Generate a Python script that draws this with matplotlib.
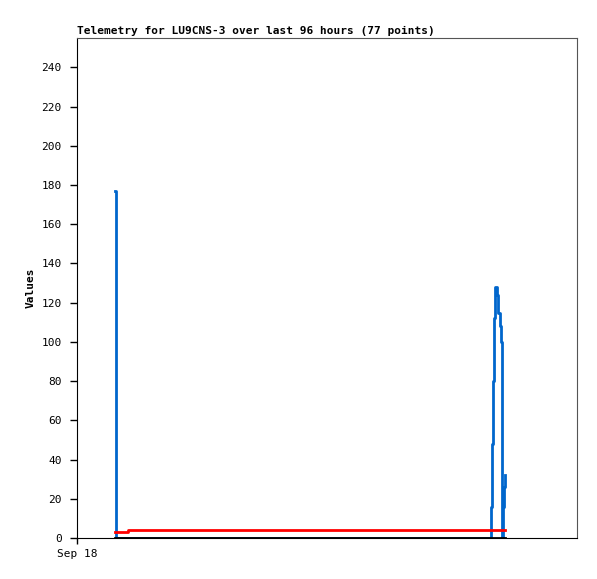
import matplotlib
matplotlib.use('Agg')
import matplotlib.pyplot as plt

# hours after Sep 18 00:00
blue_t = [7.6, 7.7, 82.7, 82.9, 83.1, 83.3, 83.6, 84.0, 84.2, 84.5, 84.8, 84.9, 85.1, 85.3, 85.5, 85.6]
blue_v = [177, 0, 16, 48, 80, 112, 128, 124, 115, 108, 100, 0, 16, 26, 32, 32]
red_t = [7.6, 10.2, 85.6]
red_v = [3, 4, 4]
black_t = [7.6, 85.6]
black_v = [0, 0]

mono = 'DejaVu Sans Mono'
fig = plt.figure(figsize=(5.97, 5.79), dpi=100)
ax = fig.add_axes([77/597, 41/579, 500/597, 500/579])

ax.step(blue_t, blue_v, where='post', color='#0066cc', lw=2)
ax.step(red_t, red_v, where='post', color='#ff0000', lw=2)
ax.plot(black_t, black_v, color='black', lw=2)

ax.set_xlim(0, 100)
ax.set_ylim(0, 255)
ax.set_yticks(range(0, 241, 20))
ax.set_xticks([0])
ax.set_xticklabels(['Sep 18'])
for lab in ax.get_xticklabels() + ax.get_yticklabels():
    lab.set_family(mono)
    lab.set_fontsize(8)
ax.tick_params(axis='y', direction='out', length=5, width=1, color='black', pad=6)
ax.tick_params(axis='x', direction='out', length=4, width=1, color='black', pad=4)

for s in ['top', 'right']:
    ax.spines[s].set_color('#555555')
for s in ['left', 'bottom']:
    ax.spines[s].set_color('black')

ax.set_ylabel('Values', family=mono, fontsize=8, fontweight='bold')
ax.set_title('Telemetry for LU9CNS-3 over last 96 hours (77 points)',
             family=mono, fontsize=8, fontweight='bold', loc='left', pad=3)

fig.savefig('out.png', dpi=100)
